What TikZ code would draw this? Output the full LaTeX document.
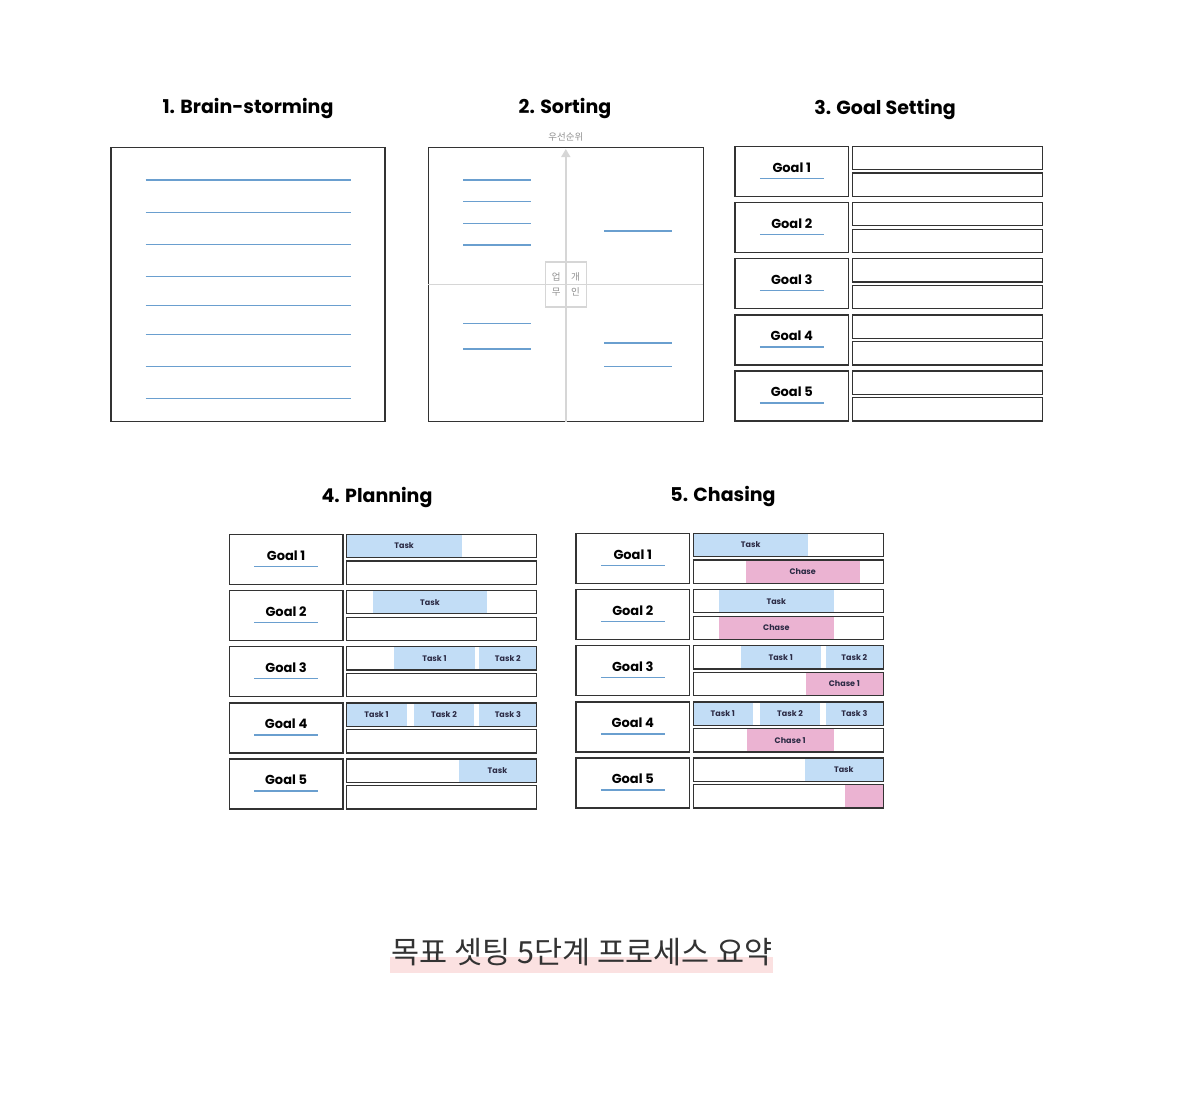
\documentclass[tikz,border=0pt]{standalone}
\usepackage{fontspec}
\setmainfont{Poppins}
\newfontfamily\krfont{Noto Sans CJK KR}
\usepackage{xcolor}
\usepackage{tikz}
\usetikzlibrary{positioning,calc,arrows.meta,backgrounds}

\definecolor{framegray}{HTML}{333333}
\definecolor{lineblue}{HTML}{6A9FCF}
\definecolor{taskblue}{HTML}{C2DDF6}
\definecolor{chasepink}{HTML}{EBB3D2}
\definecolor{axisgray}{HTML}{D6D6D6}
\definecolor{labelgray}{HTML}{8F8F8F}
\definecolor{bartext}{HTML}{2B2A44}
\definecolor{markpink}{HTML}{FBE1E1}

\tikzset{
  title/.style={font=\bfseries\fontsize{19}{22}\selectfont},
  panel/.style={draw=framegray, line width=1.3pt, outer sep=0pt, inner sep=0pt, anchor=north west},
  goalbox/.style={draw=framegray, line width=1.3pt, outer sep=0pt, inner sep=0pt,
    minimum width=113.6pt, minimum height=50pt, anchor=north west},
  subbox/.style={draw=framegray, line width=1.3pt, outer sep=0pt, inner sep=0pt,
    minimum width=190pt, minimum height=23.3pt},
  goaltext/.style={font=\bfseries\fontsize{13}{15}\selectfont},
  bline/.style={draw=lineblue, line width=1.5pt},
  axisline/.style={draw=axisgray, line width=1.5pt},
  smallkr/.style={font=\krfont\fontsize{9.5}{11}\selectfont, text=labelgray, inner sep=0pt},
  taskfill/.style={fill=taskblue, font=\bfseries\fontsize{8}{9}\selectfont, text=bartext,
    minimum height=23.3pt, inner sep=0pt, outer sep=0pt, anchor=north west},
  chasefill/.style={taskfill, fill=chasepink},
}

% five goal rows: name prefix, left x, top y
\newcommand{\goaltable}[3]{%
  \foreach \i in {1,...,5}{
    \node[goalbox] (#1g\i) at (#2,{#3+(\i-1)*56.2}) {};
    \node[goaltext] (#1t\i) at ([yshift=4pt]#1g\i.center) {Goal \i};
    \draw[bline] ([xshift=-32pt,yshift=-7pt]#1g\i.center) -- ([xshift=32pt,yshift=-7pt]#1g\i.center);
    \node[subbox, anchor=north west] (#1a\i) at ([xshift=3.6pt]#1g\i.north east) {};
    \node[subbox, anchor=south west] (#1b\i) at ([xshift=3.6pt]#1g\i.south east) {};
  }}
% bar inside a row box: style, box, offset, width, text, name
\newcommand{\barfill}[6]{%
  \node[#1, minimum width=#4pt] (#6) at ([xshift=#3pt]#2.north west) {#5};}

\begin{document}
\begin{tikzpicture}[x=1pt, y=-1pt]
    \path[use as bounding box] (0,0) rectangle (1178,1106);

    % Titles
    \node[title] (t1) at (248,108) {1. Brain-storming};
    \node[title] (t2) at (565,108) {2. Sorting};
    \node[title] (t3) at (885,109) {3. Goal Setting};
    \node[title] (t4) at (377,497) {4. Planning};
    \node[title] (t5) at (723,496) {5. Chasing};

    % 1. Brain-storming
    \node[panel, minimum width=274pt, minimum height=274pt] (brain) at (111,147.5) {};
    \foreach \y in {180,212.3,244.3,276.7,305.7,334.3,366.7,398.7}
        \draw[bline] (145.7,\y) -- (350.7,\y);

    % 2. Sorting
    \node[panel, minimum width=275pt, minimum height=274pt] (sort) at (428.3,147.5) {};
    \draw[axisline] (sort.west) -- (sort.east);
    \draw[axisline, -{Triangle[width=9pt,length=8pt]}] (sort.south) -- ([yshift=-1.5pt]sort.north);
    \node[smallkr, above=6pt of sort.north] (prio) {우선순위};
    \node[draw=axisgray, line width=1.2pt, minimum width=41pt, minimum height=45pt] (quad) at (sort.center) {};
    \node[smallkr] (q1) at ([xshift=-9.6pt,yshift=7.8pt]quad.center) {업};
    \node[smallkr] (q2) at ([xshift=9.6pt,yshift=7.8pt]quad.center) {개};
    \node[smallkr] (q3) at ([xshift=-9.6pt,yshift=-7.8pt]quad.center) {무};
    \node[smallkr] (q4) at ([xshift=9.6pt,yshift=-7.8pt]quad.center) {인};
    % left items
    \foreach \y in {180,201.7,223.3,245,323.3,349}
        \draw[bline] (463.3,\y) -- (530.7,\y);
    % right items
    \foreach \y in {231,343,366.7}
        \draw[bline] (604.3,\y) -- (672,\y);

    % 3. Goal Setting
    \goaltable{gs}{735}{146.3}

    % 4. Planning
    \goaltable{pl}{229.3}{534.3}
    \begin{scope}[on background layer]
        \barfill{taskfill}{pla1}{0}{115.3}{Task}{pl1}
        \barfill{taskfill}{pla2}{26.3}{114.3}{Task}{pl2}
        \barfill{taskfill}{pla3}{47.6}{80.7}{Task 1}{pl31}
        \barfill{taskfill}{pla3}{132.6}{57.4}{Task 2}{pl32}
        \barfill{taskfill}{pla4}{0}{60}{Task 1}{pl41}
        \barfill{taskfill}{pla4}{67.6}{59.7}{Task 2}{pl42}
        \barfill{taskfill}{pla4}{132.6}{57.4}{Task 3}{pl43}
        \barfill{taskfill}{pla5}{112}{78}{Task}{pl5}
    \end{scope}

    % 5. Chasing
    \goaltable{ch}{576}{533.3}
    \begin{scope}[on background layer]
        \barfill{taskfill}{cha1}{0}{115}{Task}{ct1}
        \barfill{chasefill}{chb1}{52.3}{114.4}{Chase}{cc1}
        \barfill{taskfill}{cha2}{26}{114.3}{Task}{ct2}
        \barfill{chasefill}{chb2}{26}{114.3}{Chase}{cc2}
        \barfill{taskfill}{cha3}{47.3}{80.4}{Task 1}{ct31}
        \barfill{taskfill}{cha3}{132.3}{57.7}{Task 2}{ct32}
        \barfill{chasefill}{chb3}{112.3}{77.7}{Chase 1}{cc3}
        \barfill{taskfill}{cha4}{0}{59.3}{Task 1}{ct41}
        \barfill{taskfill}{cha4}{67}{59.7}{Task 2}{ct42}
        \barfill{taskfill}{cha4}{132.3}{57.7}{Task 3}{ct43}
        \barfill{chasefill}{chb4}{53.7}{86.6}{Chase 1}{cc4}
        \barfill{taskfill}{cha5}{111.3}{78.7}{Task}{ct5}
        \barfill{chasefill}{chb5}{151.3}{38.7}{}{cc5}
    \end{scope}

    % Caption
    \fill[markpink] (390,956.7) rectangle (773.3,973.3);
    \node[font=\krfont\fontsize{30.5}{33}\selectfont, text=framegray, anchor=base] (cap) at (581.7,963.5) {목표 셋팅 5단계 프로세스 요약};
\end{tikzpicture}
\end{document}
